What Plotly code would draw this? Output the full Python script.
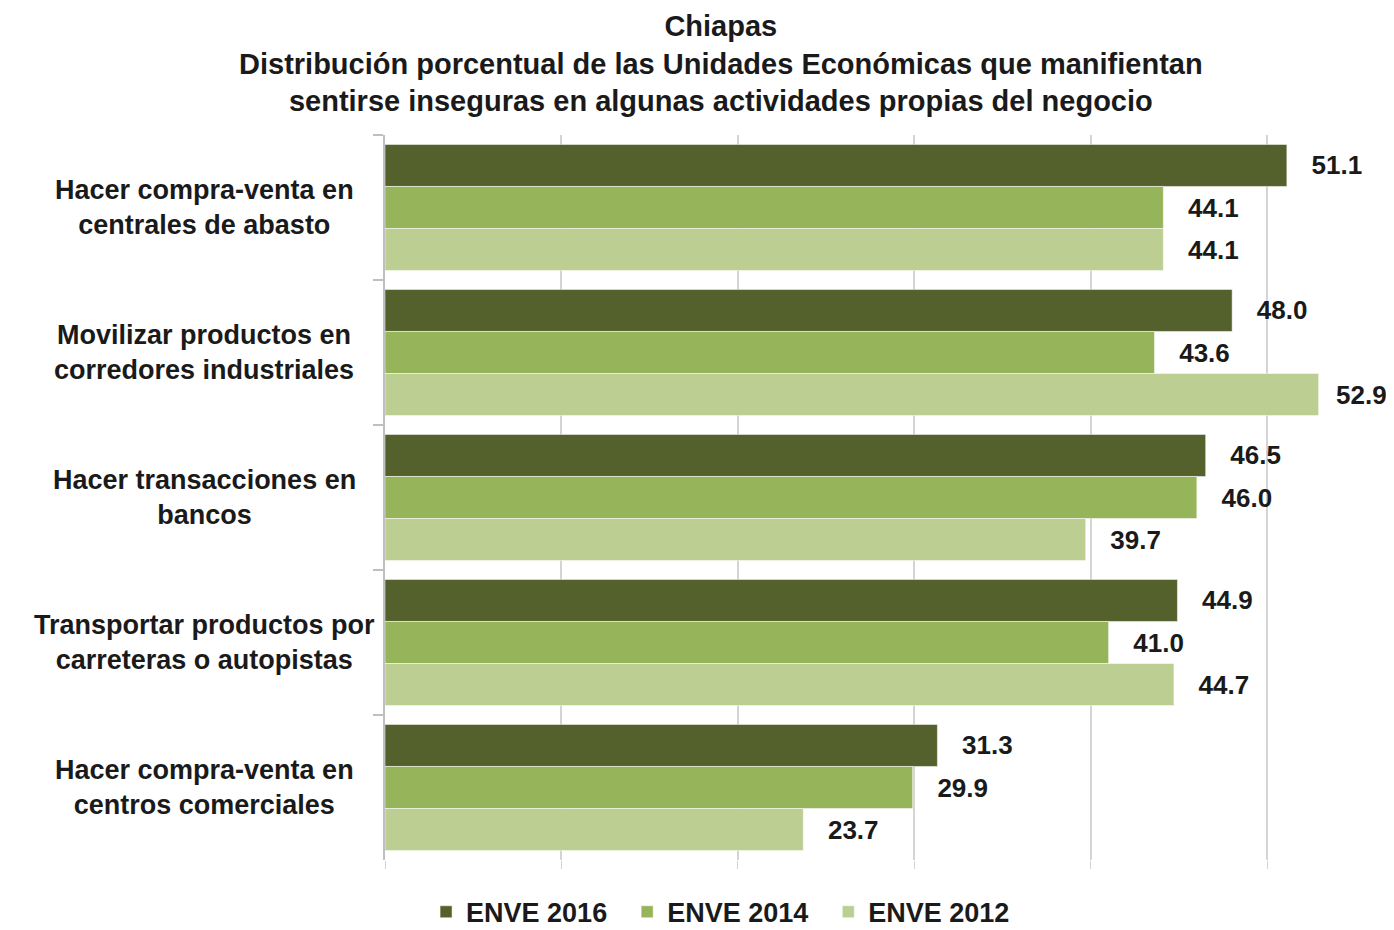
import plotly.graph_objects as go

categories = [
    "Hacer compra-venta en<br>centrales de abasto",
    "Movilizar productos en<br>corredores industriales",
    "Hacer transacciones en<br>bancos",
    "Transportar productos por<br>carreteras o autopistas",
    "Hacer compra-venta en<br>centros comerciales",
]
cat_ids = ["c1", "c2", "c3", "c4", "c5"]

series_names = ["ENVE 2016", "ENVE 2014", "ENVE 2012"]
enve_2016 = [51.1, 48.0, 46.5, 44.9, 31.3]
enve_2014 = [44.1, 43.6, 46.0, 41.0, 29.9]
enve_2012 = [44.1, 52.9, 39.7, 44.7, 23.7]
colors = ["#55612D", "#96B45A", "#BCCE92"]

FONT = "Liberation Sans, Arial, sans-serif"
TXT = "#1a1a1a"

fig = go.Figure()
for name, vals, col in zip(series_names, [enve_2016, enve_2014, enve_2012], colors):
    # labels near the right edge get a little less padding so they fit
    templates = ["  <b>%{text}</b>" if v > 52 else "   <b>%{text}</b>" for v in vals]
    fig.add_trace(
        go.Bar(
            y=cat_ids,
            x=vals,
            name=f"<b>{name}</b>  ",
            orientation="h",
            marker=dict(color=col, line=dict(width=1, color="rgba(255,255,255,0.5)")),
            text=[f"{v:.1f}" for v in vals],
            texttemplate=templates,
            textposition="outside",
            cliponaxis=False,
            textfont=dict(family=FONT, size=26, color=TXT),
        )
    )

# category labels, centred on the left
for cid, label in zip(cat_ids, categories):
    fig.add_annotation(
        x=-0.179,
        xref="paper",
        y=cid,
        yref="y",
        text=f"<b>{label}</b>",
        showarrow=False,
        xanchor="center",
        yanchor="middle",
        align="center",
        font=dict(family=FONT, size=27, color=TXT),
    )

# title as a centred annotation above the plot
fig.add_annotation(
    x=0.333,
    xref="paper",
    y=1 + (135 - 64) / 725,
    yref="paper",
    text="<b>Chiapas<br>Distribución porcentual de las Unidades Económicas que manifientan<br>"
    "sentirse inseguras en algunas actividades propias del negocio</b>",
    showarrow=False,
    xanchor="center",
    yanchor="middle",
    align="center",
    font=dict(family=FONT, size=29, color=TXT),
)

fig.update_layout(
    width=1394,
    height=930,
    barmode="group",
    bargap=0.13,
    bargroupgap=0,
    plot_bgcolor="white",
    paper_bgcolor="white",
    margin=dict(l=377, r=8, t=127, b=78, autoexpand=False),
    legend=dict(
        orientation="h",
        x=0.34,
        xanchor="center",
        y=-0.072,
        yanchor="middle",
        font=dict(family=FONT, size=27, color=TXT),
        itemwidth=30,
    ),
    showlegend=True,
    font=dict(family=FONT),
)

fig.update_xaxes(
    range=[0, 57.17],
    dtick=10,
    showgrid=True,
    gridcolor="#d4d4d4",
    gridwidth=1.5,
    zeroline=False,
    showline=False,
    showticklabels=False,
    ticks="outside",
    ticklen=8,
    tickcolor="#d4d4d4",
    automargin=False,
)
fig.update_yaxes(
    autorange="reversed",
    showgrid=False,
    showline=True,
    linecolor="#bfbfbf",
    linewidth=2,
    ticks="outside",
    ticklen=10,
    tickcolor="#bfbfbf",
    tickwidth=2,
    tickson="boundaries",
    showticklabels=False,
    automargin=False,
)

fig.write_html("out.html")
